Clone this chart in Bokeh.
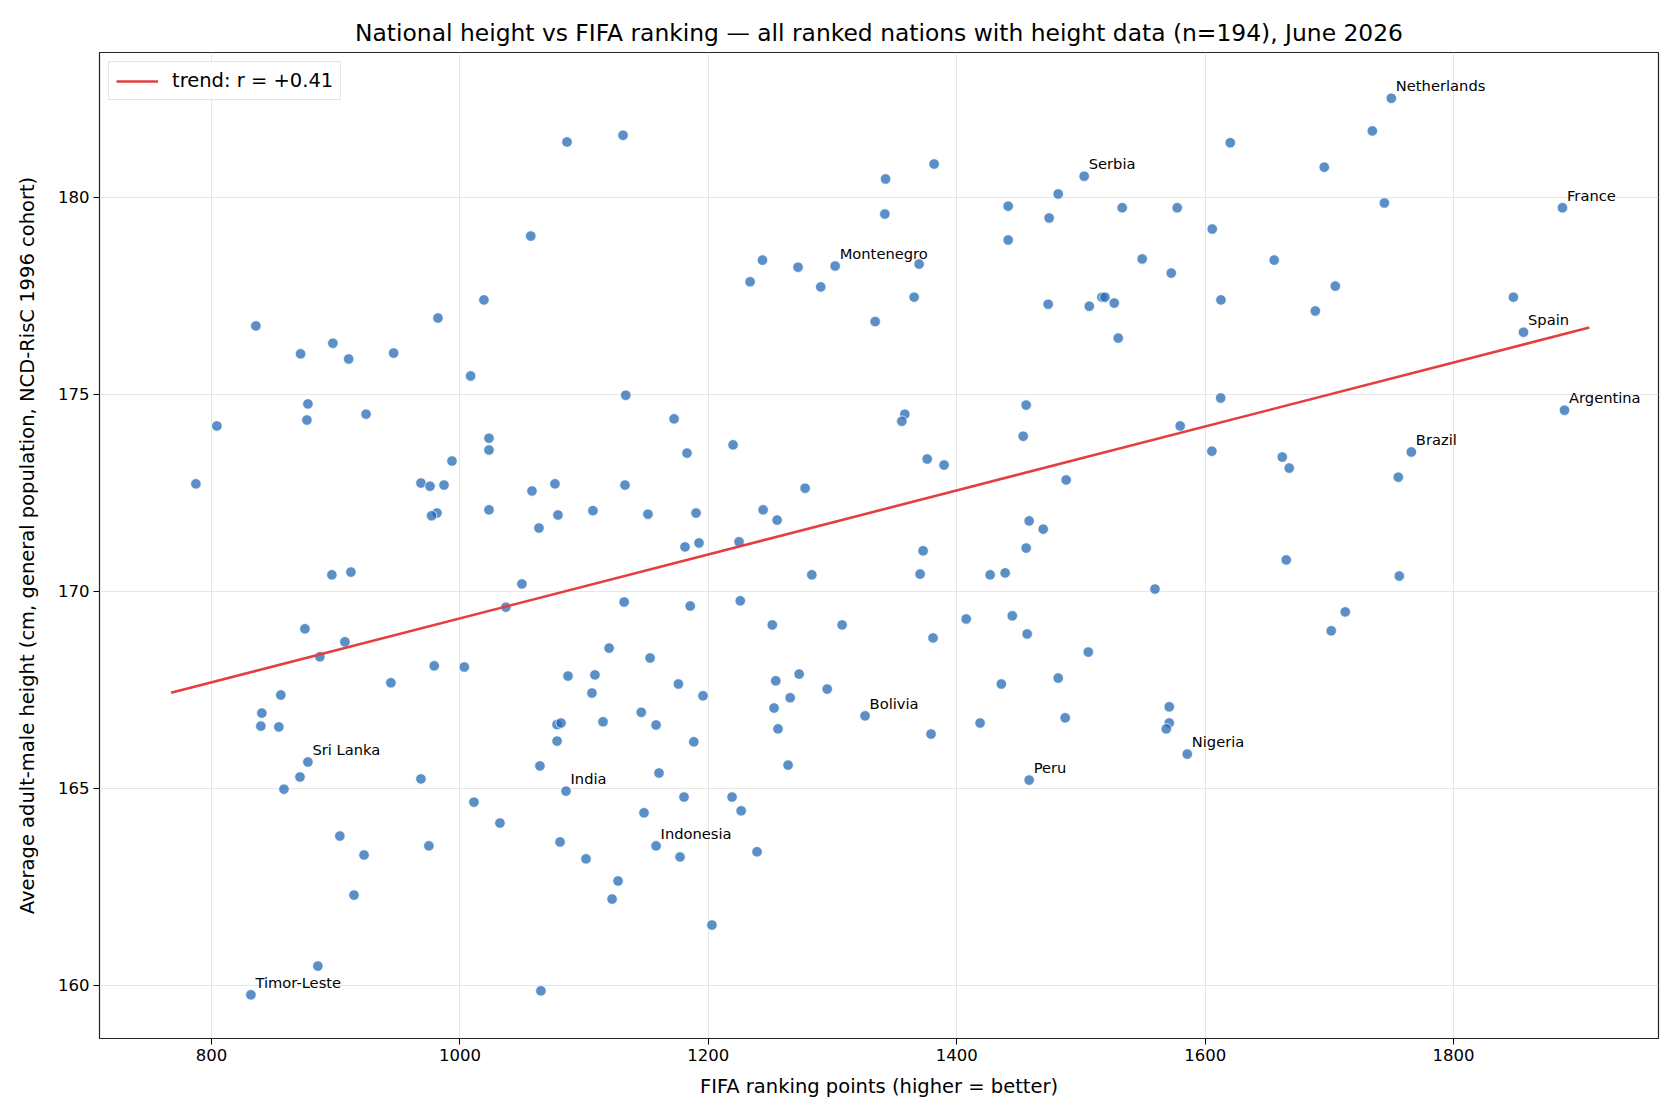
import numpy as np
from bokeh.plotting import figure
from bokeh.models import Range1d, FixedTicker, Legend, LegendItem, ColumnDataSource
from bokeh.embed import file_html
from bokeh.resources import INLINE
from bokeh.core.properties import value

FONT = "DejaVu Sans"

# Nations that get a name tag; they are the first entries of the arrays below.
labeled_nations = [
    "Netherlands", "France", "Serbia", "Montenegro", "Spain", "Argentina", "Brazil",
    "Bolivia", "Nigeria", "Peru", "Sri Lanka", "India", "Indonesia", "Timor-Leste",
]

# FIFA ranking points, June 2026
fifa_points = [
    1749.9, 1887.7, 1502.6, 1302.1, 1856.3, 1889.3, 1766.0,
    1326.2, 1585.6, 1458.3, 877.6, 1085.4, 1157.9, 831.7,
    835.7, 871.7, 897.7, 910.4, 946.6, 982.3, 1019.3, 1008.6,
    1086.2, 1131.3, 1057.0, 1243.6, 1233.6, 1272.2, 1290.5, 1334.3,
    1381.8, 1342.7, 1342.1, 1369.7, 1365.7, 1481.7, 1441.4, 1474.4,
    1533.2, 1577.5, 1620.2, 1605.7, 1441.4, 1549.3, 1572.7, 1612.7,
    1473.6, 1506.7, 1516.9, 1519.3, 1526.8, 1530.0,
    1734.6, 1695.9, 1744.3, 1655.6, 1704.8, 1688.7, 1848.2,
    804.3, 787.4, 877.6, 876.8, 924.4, 1023.4, 1023.4, 993.6, 968.6,
    975.9, 987.2, 981.5, 977.2, 1023.4, 896.9, 912.2, 875.2, 907.4,
    887.2, 979.3, 1003.5, 944.4, 855.8,
    840.5, 839.7, 854.2, 871.2, 858.3, 968.6, 1011.3, 903.3, 975.0,
    922.8, 914.7, 885.6,
    1133.5, 1172.4, 1219.9, 1182.8, 1058.0, 1076.5, 1132.9, 1277.9,
    1078.9, 1063.6, 1107.1, 1151.4, 1190.1, 1244.1, 1255.4, 1181.2,
    1192.5, 1224.7, 1283.3, 1049.9, 1037.0, 1132.2, 1185.4, 1225.7,
    1251.5, 1307.7, 1120.1, 1153.1, 1087.0, 1108.7, 1106.3, 1175.9,
    1195.7, 1254.3, 1273.1, 1265.9, 1295.7, 1252.9, 1146.0,
    1078.2, 1081.4, 1115.2, 1157.9, 1256.1, 1078.2, 1188.3, 1064.4,
    1160.3, 1264.2, 1180.4, 1219.1, 1226.4, 1148.2, 1032.2, 1177.2,
    1239.2, 1080.6, 1101.5, 1127.3, 1122.5, 1202.9, 1065.2,
    1358.2, 1355.8, 1455.9, 1453.5, 1612.5, 1579.9, 1605.4, 1376.2,
    1389.8, 1488.1, 1458.3, 1469.6, 1455.9, 1372.9, 1370.5, 1426.9,
    1439.0, 1559.6, 1407.6, 1444.7, 1380.9, 1456.7, 1505.9, 1435.9,
    1481.7, 1571.1,
    1379.3, 1418.8, 1487.3, 1571.1, 1568.7,
    1662.1, 1667.7, 1755.5, 1665.3, 1756.3, 1712.8, 1701.5,
]

# Average adult-male height (cm), NCD-RisC 1996 birth cohort
height_cm = [
    182.52, 179.74, 180.54, 178.26, 176.58, 174.60, 173.54,
    166.84, 165.87, 165.21, 165.67, 164.93, 163.54, 159.76,
    176.74, 176.03, 176.30, 175.90, 176.05, 176.94, 177.40, 175.47,
    181.41, 181.58, 179.02, 178.41, 177.86, 178.23, 177.73, 176.85,
    180.85, 180.47, 179.58, 178.31, 177.47, 180.09, 179.78, 179.48,
    179.74, 179.74, 181.39, 179.20, 178.92, 178.44, 178.08, 177.40,
    177.29, 177.24, 177.47, 177.47, 177.32, 176.43,
    181.69, 180.77, 179.86, 178.41, 177.75, 177.12, 177.47,
    174.20, 172.73, 174.76, 174.35, 174.50, 173.89, 173.59, 173.31, 172.75,
    172.67, 172.70, 171.99, 171.92, 172.07, 170.42, 170.49, 169.05, 168.72,
    168.34, 168.11, 168.08, 167.68, 167.37,
    166.91, 166.58, 166.56, 165.29, 164.98, 165.24, 164.65, 163.79, 163.54,
    163.31, 162.29, 160.49,
    174.98, 174.38, 173.72, 173.51, 172.55, 172.73, 172.70, 172.62,
    171.94, 171.61, 172.05, 171.96, 171.99, 172.07, 171.81, 171.13,
    171.23, 171.26, 170.42, 170.19, 169.60, 169.73, 169.63, 169.76,
    169.15, 169.15, 168.56, 168.31, 167.85, 167.88, 167.42, 167.65,
    167.35, 167.73, 167.90, 167.30, 167.52, 167.04, 166.93,
    166.62, 166.66, 166.69, 166.61, 166.51, 166.20, 166.18, 165.57,
    165.39, 165.59, 164.78, 164.78, 164.43, 164.38, 164.12, 163.26,
    163.39, 163.64, 163.21, 162.65, 162.19, 161.53, 159.86,
    174.50, 174.32, 174.73, 173.94, 174.91, 174.20, 173.56, 173.36,
    173.21, 172.83, 171.79, 171.58, 171.10, 171.03, 170.44, 170.42,
    170.47, 170.06, 169.30, 169.38, 168.82, 168.92, 168.46, 167.65,
    167.80, 167.07,
    166.38, 166.66, 166.79, 166.66, 166.51,
    173.41, 173.13, 172.90, 170.80, 170.39, 169.48, 169.00,
]

x = np.array(fifa_points)
y = np.array(height_cm)

# least-squares trend and Pearson r
slope, intercept = np.polyfit(x, y, 1)
r = np.corrcoef(x, y)[0, 1]
trend_x = np.array([x.min() - 20, x.max() + 20])
trend_y = slope * trend_x + intercept

p = figure(
    width=1680, height=1120,
    output_backend="svg", toolbar_location=None,
    x_range=Range1d(709.8, 1965.0), y_range=Range1d(158.65, 183.68),
    min_border_left=99, min_border_right=22, min_border_top=52, min_border_bottom=82,
    title="National height vs FIFA ranking \u2014 all ranked nations with height data (n=194), June 2026",
)
p.background_fill_color = "white"
p.border_fill_color = "white"
p.outline_line_color = "#222222"
p.outline_line_width = 1.2

p.title.align = "center"
p.title.text_font = FONT
p.title.text_font_size = "23.4px"
p.title.text_font_style = "normal"
p.title.text_color = "black"
p.title.standoff = 11

for ax in (p.xaxis[0], p.yaxis[0]):
    ax.axis_line_color = None
    ax.major_tick_line_color = "black"
    ax.major_tick_in = 0
    ax.major_tick_out = 6
    ax.minor_tick_line_color = None
    ax.major_label_text_font = FONT
    ax.major_label_text_font_size = "16.5px"
    ax.major_label_text_color = "black"
    ax.axis_label_text_font = FONT
    ax.axis_label_text_font_size = "19.5px"
    ax.axis_label_text_font_style = "normal"
    ax.axis_label_text_color = "black"
    ax.major_label_standoff = 4

p.xaxis.ticker = FixedTicker(ticks=[800, 1000, 1200, 1400, 1600, 1800])
p.yaxis.ticker = FixedTicker(ticks=[160, 165, 170, 175, 180])
p.xaxis.axis_label = "FIFA ranking points (higher = better)"
p.yaxis.axis_label = "Average adult-male height (cm, general population, NCD-RisC 1996 cohort)"
p.xaxis.axis_label_standoff = 11
p.yaxis.axis_label_standoff = 16

p.xgrid.ticker = p.xaxis.ticker
p.ygrid.ticker = p.yaxis.ticker
p.grid.grid_line_color = "#e6e6e6"
p.grid.grid_line_width = 1

src = ColumnDataSource(dict(x=x, y=y))
p.scatter("x", "y", source=src, size=10.5, fill_color="#246ab4", fill_alpha=0.75,
          line_color="white", line_width=0.8, line_alpha=0.9)

trend = p.line(trend_x, trend_y, line_color="#e53e3e", line_width=2.6)

# name tags sit just above and to the right of their dot
n_lab = len(labeled_nations)
lab_src = ColumnDataSource(dict(x=x[:n_lab], y=y[:n_lab], name=labeled_nations))
p.text("x", "y", text="name", source=lab_src, x_offset=4.5, y_offset=-12.5,
       text_font=value(FONT), text_font_size="14.7px", text_color="black",
       text_baseline="alphabetic", text_align="left")

legend = Legend(items=[LegendItem(label=f"trend: r = {r:+.2f}", renderers=[trend])],
                location="top_left")
legend.label_text_font = FONT
legend.label_text_font_size = "19.5px"
legend.label_text_color = "black"
legend.border_line_color = "#cccccc"
legend.border_line_width = 1
legend.background_fill_alpha = 0.85
legend.glyph_width = 42
legend.glyph_height = 20
legend.label_standoff = 14
legend.padding = 7
legend.margin = 9
p.add_layout(legend)

open("out.html", "w").write(file_html(p, INLINE))
